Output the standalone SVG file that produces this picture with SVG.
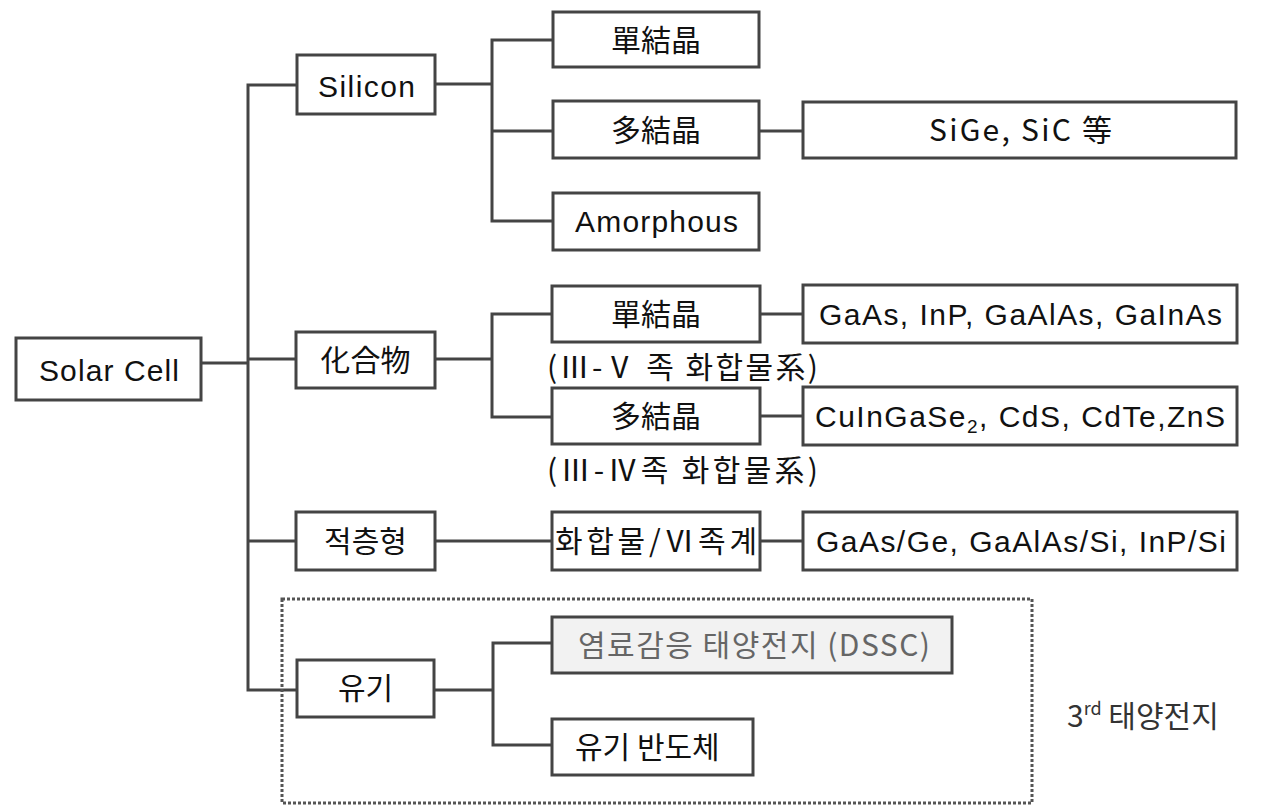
<svg xmlns="http://www.w3.org/2000/svg" width="1279" height="805" viewBox="0 0 1279 805">
<style>
.box{fill:#fff;stroke:#444;stroke-width:3}
.gbox{fill:#f2f2f2;stroke:#444;stroke-width:3}
.t{font-family:"Liberation Sans","Noto Sans CJK KR",sans-serif;font-size:30px;fill:#111}
.k{font-family:"Noto Sans CJK KR","Liberation Sans",sans-serif;font-size:30px;fill:#111}
.gray{fill:#666}
.dark{fill:#333}
.conn{fill:none;stroke:#444;stroke-width:3}
.dot{fill:none;stroke:#555;stroke-width:3;stroke-dasharray:3 2}
</style>
<rect width="1279" height="805" fill="#fff"/>
<g id="connectors">
<path class="conn" d="M297 85 H248 V690 H297"/>
<path class="conn" d="M201 363 H248"/>
<path class="conn" d="M248 359 H296"/>
<path class="conn" d="M248 541 H296"/>
<path class="conn" d="M435 84 H492"/>
<path class="conn" d="M553 40 H492 V221 H553"/>
<path class="conn" d="M492 131 H553"/>
<path class="conn" d="M759 131 H803"/>
<path class="conn" d="M435 359 H492"/>
<path class="conn" d="M552 314 H492 V417 H552"/>
<path class="conn" d="M760 314 H803"/>
<path class="conn" d="M760 416 H803"/>
<path class="conn" d="M435 541 H552"/>
<path class="conn" d="M760 541 H803"/>
<path class="conn" d="M434 690 H493"/>
<path class="conn" d="M552 643 H493 V745 H552"/>
</g>
<g id="group3rd">
<rect class="dot" x="282" y="599" width="750" height="204"/>
<text class="k dark" x="1067" y="727">3<tspan font-size="18" dy="-12">rd</tspan><tspan dy="12"> 태양전지</tspan></text>
</g>
<g id="solarcell">
<rect class="box" x="16" y="338" width="185" height="62"/>
<text class="t" x="39" y="381" textLength="140">Solar Cell</text>
</g>
<g id="silicon">
<rect class="box" x="297" y="55" width="138" height="59"/>
<text class="t" x="318" y="97" textLength="97">Silicon</text>
</g>
<g id="compound">
<rect class="box" x="296" y="332" width="139" height="56"/>
<text class="k" x="365.5" y="371" text-anchor="middle">化合物</text>
</g>
<g id="stacked">
<rect class="box" x="296" y="512" width="139" height="58"/>
<text class="k" x="365.5" y="552" text-anchor="middle">적층형</text>
</g>
<g id="organic">
<rect class="box" x="297" y="660" width="137" height="57"/>
<text class="k" x="365.5" y="699" text-anchor="middle">유기</text>
</g>
<g id="si-mono">
<rect class="box" x="553" y="12" width="206" height="55"/>
<text class="k" x="656" y="51" text-anchor="middle">單結晶</text>
</g>
<g id="si-poly">
<rect class="box" x="553" y="101" width="206" height="57"/>
<text class="k" x="656" y="141" text-anchor="middle">多結晶</text>
</g>
<g id="si-amorphous">
<rect class="box" x="553" y="193" width="206" height="57"/>
<text class="t" x="575" y="232" textLength="163">Amorphous</text>
</g>
<g id="sige">
<rect class="box" x="803" y="102" width="433" height="56"/>
<text class="k" x="929" y="141" textLength="183">SiGe, SiC 等</text>
</g>
<g id="c-mono">
<rect class="box" x="552" y="286" width="208" height="56"/>
<text class="k" x="656" y="325" text-anchor="middle">單結晶</text>
</g>
<text class="k" x="547" y="378" textLength="271">(Ⅲ-Ⅴ 족 화합물系)</text>
<g id="c-poly">
<rect class="box" x="552" y="388" width="208" height="56"/>
<text class="k" x="656" y="427" text-anchor="middle">多結晶</text>
</g>
<text class="k" x="547" y="481" textLength="271">(Ⅲ-Ⅳ족 화합물系)</text>
<g id="gaas">
<rect class="box" x="803" y="285" width="434" height="58"/>
<text class="t" x="819" y="325" textLength="403">GaAs, InP, GaAlAs, GaInAs</text>
</g>
<g id="cuin">
<rect class="box" x="803" y="387" width="434" height="58"/>
<text class="t" x="815" y="427" textLength="410">CuInGaSe<tspan font-size="19" dy="6">2</tspan><tspan dy="-6">, CdS, CdTe,ZnS</tspan></text>
</g>
<g id="compound-vi">
<rect class="box" x="552" y="512" width="208" height="58"/>
<text class="k" x="555" y="552" textLength="202">화합물/Ⅵ족계</text>
</g>
<g id="gaasge">
<rect class="box" x="803" y="512" width="434" height="58"/>
<text class="t" x="816" y="552" textLength="410">GaAs/Ge, GaAlAs/Si, InP/Si</text>
</g>
<g id="dssc">
<rect class="gbox" x="552" y="617" width="400" height="56"/>
<text class="k gray" x="578" y="656" textLength="352">염료감응 태양전지 (DSSC)</text>
</g>
<g id="organic-semi">
<rect class="box" x="552" y="719" width="201" height="56"/>
<text class="k" x="575" y="758">유기 반도체</text>
</g>
</svg>
